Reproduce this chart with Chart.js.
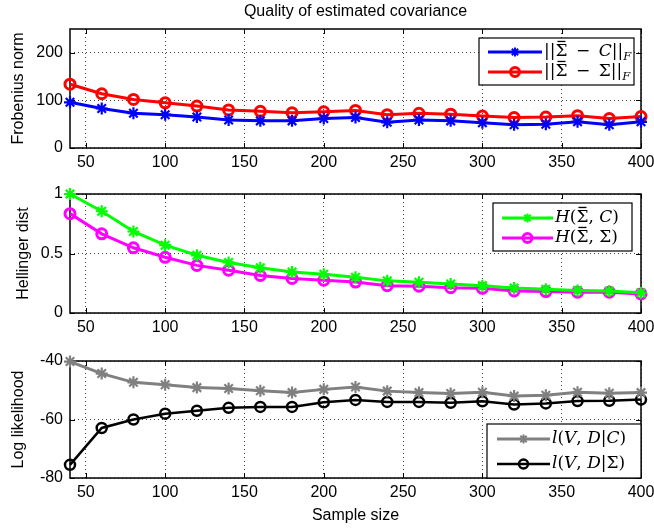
<!DOCTYPE html>
<html>
<head>
<meta charset="utf-8">
<script src="https://cdn.jsdelivr.net/npm/chart.js@4"></script>
<style>
body { margin: 0; background: #fff; }
#wrap { position: relative; width: 654px; height: 531px; overflow: hidden; }
#wrap canvas { position: absolute; left: 0; }
</style>
</head>
<body>
<div id="wrap">
  <canvas id="frob" width="660" height="180" style="top:0px"></canvas>
  <canvas id="hell" width="660" height="175" style="top:165px"></canvas>
  <canvas id="logl" width="660" height="201" style="top:330px"></canvas>
</div>
<script>

// sample sizes on the x axis
var sampleSizes = [40, 60, 80, 100, 120, 140, 160, 180, 200, 220, 240, 260, 280, 300, 320, 340, 360, 380, 400];
var xTicks = [50, 100, 150, 200, 250, 300, 350, 400];

// Frobenius norm
var frobC     = [96, 83, 73, 70, 65, 59, 57, 57, 62, 64, 54, 59, 57, 53, 49, 50, 55, 49, 55];
var frobSigma = [134, 114, 102, 95, 88, 80, 77, 74, 76, 79, 70, 73, 71, 67, 64, 65, 68, 62, 66];
var frobTicks = [0, 100, 200];

// Hellinger distance
var hellC     = [1.0, 0.855, 0.685, 0.57, 0.485, 0.425, 0.38, 0.345, 0.325, 0.30, 0.27, 0.258, 0.244, 0.23, 0.21, 0.20, 0.19, 0.185, 0.17];
var hellSigma = [0.835, 0.665, 0.548, 0.468, 0.40, 0.36, 0.315, 0.29, 0.275, 0.26, 0.23, 0.225, 0.213, 0.207, 0.185, 0.18, 0.175, 0.175, 0.16];
var hellTicks = [0, 0.5, 1];

// log likelihood
var llC     = [-40.2, -44.3, -47.3, -48.1, -49.1, -49.4, -50.2, -50.8, -49.7, -48.9, -50.3, -50.8, -51.1, -50.7, -52.0, -51.7, -50.7, -51.0, -50.8];
var llSigma = [-75.5, -62.9, -60.0, -58.0, -57.0, -56.0, -55.7, -55.7, -54.1, -53.3, -54.0, -54.0, -54.3, -53.8, -54.9, -54.5, -53.7, -53.6, -53.2];
var llTicks = [-80, -60, -40];

var SANS = "'Liberation Sans', Arial, Helvetica, sans-serif";
var SERIF = "'DejaVu Serif', 'Liberation Serif', serif";

function points(ys){
	return sampleSizes.map(function(x, i){ return {x: x, y: ys[i]}; });
}

function series(label, ys, color, style, width){
	var star = style === 'star';
	return {
		label: label,
		data: points(ys),
		xAxisID: 'x',
		borderColor: color,
		backgroundColor: 'rgba(0,0,0,0)',
		borderWidth: width,
		pointStyle: style,
		pointRadius: star ? 6 : 5,
		pointBorderWidth: star ? 2.2 : width,
		pointBorderColor: color,
		pointBackgroundColor: 'rgba(0,0,0,0)',
		tension: 0,
		clip: false
	};
}

// axes box and the small inward tick marks, drawn under the lines
var axesBox = {
	id: 'axesBox',
	beforeDatasetsDraw: function(chart){
		var a = chart.chartArea, ctx = chart.ctx;
		var sx = chart.scales.x, sy = chart.scales.y;
		ctx.save();
		ctx.strokeStyle = '#000';
		ctx.lineWidth = 1;
		ctx.beginPath();
		sx.ticks.forEach(function(t){
			var px = Math.round(sx.getPixelForValue(t.value)) + 0.5;
			ctx.moveTo(px, a.bottom); ctx.lineTo(px, a.bottom - 5);
			ctx.moveTo(px, a.top); ctx.lineTo(px, a.top + 5);
		});
		sy.ticks.forEach(function(t){
			var py = Math.round(sy.getPixelForValue(t.value)) + 0.5;
			ctx.moveTo(a.left, py); ctx.lineTo(a.left + 5, py);
			ctx.moveTo(a.right, py); ctx.lineTo(a.right - 5, py);
		});
		ctx.stroke();
		ctx.lineWidth = 1.5;
		ctx.strokeRect(a.left, a.top, a.right - a.left, a.bottom - a.top);
		ctx.restore();
	}
};

function drawMarker(ctx, style, x, y, r){
	ctx.beginPath();
	if (style === 'circle') {
		ctx.arc(x, y, r, 0, Math.PI * 2);
	} else {
		var d = r * Math.SQRT1_2;
		ctx.lineWidth = 2;
		ctx.moveTo(x - r, y); ctx.lineTo(x + r, y);
		ctx.moveTo(x, y - r); ctx.lineTo(x, y + r);
		ctx.moveTo(x - d, y - d); ctx.lineTo(x + d, y + d);
		ctx.moveTo(x - d, y + d); ctx.lineTo(x + d, y - d);
	}
	ctx.stroke();
}

// text made of upright, italic, barred and subscript pieces
function drawMath(ctx, parts, x, y, size){
	ctx.textBaseline = 'middle';
	ctx.textAlign = 'left';
	ctx.fillStyle = '#000';
	ctx.strokeStyle = '#000';
	parts.forEach(function(p){
		var s = p.sub ? size * 0.68 : size;
		ctx.font = (p.it ? 'italic ' : '') + s + 'px ' + SERIF;
		ctx.fillText(p.t, x, p.sub ? y + size * 0.3 : y);
		var w = ctx.measureText(p.t).width;
		if (p.bar) {
			ctx.lineWidth = 1.3;
			ctx.beginPath();
			ctx.moveTo(x + 2, y - size * 0.62);
			ctx.lineTo(x + w - 2, y - size * 0.62);
			ctx.stroke();
		}
		x += w;
	});
}

var mathLegend = {
	id: 'mathLegend',
	afterDraw: function(chart){
		var o = chart.options.plugins.mathLegend;
		if (!o) return;
		var a = chart.chartArea, ctx = chart.ctx;
		var left = a.right - o.fromRight, top = a.top + o.fromTop;
		ctx.save();
		ctx.fillStyle = '#fff';
		ctx.fillRect(left, top, o.w, o.h);
		ctx.strokeStyle = '#000';
		ctx.lineWidth = 1.2;
		ctx.strokeRect(left, top, o.w, o.h);
		o.items.forEach(function(it, i){
			var y = top + o.rows[i];
			ctx.strokeStyle = it.color;
			ctx.lineWidth = it.width;
			ctx.beginPath();
			ctx.moveTo(left + o.line[0], y);
			ctx.lineTo(left + o.line[1], y);
			ctx.stroke();
			drawMarker(ctx, it.style, left + (o.line[0] + o.line[1]) / 2, y, 4.5);
			drawMath(ctx, it.text, left + o.textX, y, o.size);
		});
		ctx.restore();
	}
};

function makeOptions(cfg){
	var scales = {
		x: {
			type: 'linear',
			position: 'bottom',
			min: 40,
			max: 400,
			afterBuildTicks: function(axis){ axis.ticks = xTicks.map(function(v){ return {value: v}; }); },
			afterFit: function(axis){ axis.height = cfg.xHeight; },
			ticks: {
				color: '#000',
				padding: 5,
				maxRotation: 0,
				autoSkip: false,
				font: { family: SANS, size: 16 },
				callback: function(v){ return String(v); }
			},
			grid: { color: 'rgba(0,0,0,0.75)', drawTicks: false, lineWidth: 1 },
			border: { display: false, dash: [1, 3] },
			title: cfg.xTitle ? {
				display: true,
				text: cfg.xTitle,
				color: '#000',
				font: { family: SANS, size: 16, lineHeight: 1.2 },
				padding: { top: 0, bottom: 6 }
			} : { display: false }
		},
		y: {
			type: 'linear',
			min: cfg.yMin,
			max: cfg.yMax,
			afterBuildTicks: function(axis){ axis.ticks = cfg.yTicks.map(function(v){ return {value: v}; }); },
			afterFit: function(axis){ axis.width = 70; },
			ticks: {
				color: '#000',
				padding: 7,
				autoSkip: false,
				font: { family: SANS, size: 16 },
				callback: function(v){ return String(v); }
			},
			grid: { color: 'rgba(0,0,0,0.75)', drawTicks: false, lineWidth: 1 },
			border: { display: false, dash: [1, 3] },
			title: {
				display: true,
				text: cfg.yTitle,
				color: '#000',
				font: { family: SANS, size: 16, lineHeight: 1.2 },
				padding: { top: cfg.yTitlePad, bottom: 0 }
			}
		}
	};
	// the figure title sits on an empty top axis so it is centred over the plot box
	if (cfg.title) {
		scales.top = {
			type: 'linear',
			position: 'top',
			min: 40,
			max: 400,
			ticks: { display: false },
			grid: { display: false, drawTicks: false },
			border: { display: false },
			afterFit: function(axis){ axis.height = 29; },
			title: {
				display: true,
				text: cfg.title,
				color: '#000',
				font: { family: SANS, size: 16, lineHeight: 1.2 },
				padding: { top: 2, bottom: 0 }
			}
		};
	}
	return {
		responsive: false,
		animation: false,
		devicePixelRatio: 1,
		layout: { padding: { left: 0, right: 19, top: cfg.padTop, bottom: 0 } },
		plugins: {
			legend: { display: false },
			tooltip: { enabled: false },
			title: { display: false },
			mathLegend: cfg.legend
		},
		scales: scales
	};
}

var SP = '\u2002';

new Chart(document.getElementById('frob').getContext('2d'), {
	type: 'line',
	data: { datasets: [
		series('C', frobC, '#0000ff', 'star', 3),
		series('Sigma', frobSigma, '#ff0000', 'circle', 3)
	]},
	options: makeOptions({
		title: 'Quality of estimated covariance',
		padTop: 0, xHeight: 32,
		yMin: 0, yMax: 250, yTicks: frobTicks,
		yTitle: 'Frobenius norm', yTitlePad: 9,
		legend: {
			fromRight: 162, fromTop: 9, w: 155, h: 47,
			rows: [14, 34], line: [9, 63], textX: 65, size: 17,
			items: [
				{ color: '#0000ff', width: 3, style: 'star',
				  text: [{t: '||'}, {t: '\u03A3', bar: 1}, {t: SP + '\u2212' + SP}, {t: 'C', it: 1}, {t: '||'}, {t: 'F', it: 1, sub: 1}] },
				{ color: '#ff0000', width: 3, style: 'circle',
				  text: [{t: '||'}, {t: '\u03A3', bar: 1}, {t: SP + '\u2212' + SP + '\u03A3||'}, {t: 'F', it: 1, sub: 1}] }
			]
		}
	}),
	plugins: [axesBox, mathLegend]
});

new Chart(document.getElementById('hell').getContext('2d'), {
	type: 'line',
	data: { datasets: [
		series('C', hellC, '#00ff00', 'star', 3),
		series('Sigma', hellSigma, '#ff00ff', 'circle', 3)
	]},
	options: makeOptions({
		padTop: 29, xHeight: 27,
		yMin: 0, yMax: 1, yTicks: hellTicks,
		yTitle: 'Hellinger dist', yTitlePad: 14,
		legend: {
			fromRight: 148, fromTop: 9, w: 139, h: 48,
			rows: [15, 35], line: [9, 60], textX: 62, size: 17,
			items: [
				{ color: '#00ff00', width: 3, style: 'star',
				  text: [{t: 'H', it: 1}, {t: '('}, {t: '\u03A3', bar: 1}, {t: ', '}, {t: 'C', it: 1}, {t: ')'}] },
				{ color: '#ff00ff', width: 3, style: 'circle',
				  text: [{t: 'H', it: 1}, {t: '('}, {t: '\u03A3', bar: 1}, {t: ', \u03A3)'}] }
			]
		}
	}),
	plugins: [axesBox, mathLegend]
});

new Chart(document.getElementById('logl').getContext('2d'), {
	type: 'line',
	data: { datasets: [
		series('C', llC, '#808080', 'star', 3),
		series('Sigma', llSigma, '#000000', 'circle', 2.5)
	]},
	options: makeOptions({
		padTop: 31, xHeight: 53, xTitle: 'Sample size',
		yMin: -80, yMax: -40, yTicks: llTicks,
		yTitle: 'Log likelihood', yTitlePad: 9,
		legend: {
			fromRight: 154, fromTop: 63, w: 154, h: 54,
			rows: [15, 40], line: [10, 63], textX: 65, size: 17,
			items: [
				{ color: '#808080', width: 3, style: 'star',
				  text: [{t: 'l', it: 1}, {t: '('}, {t: 'V', it: 1}, {t: ', '}, {t: 'D', it: 1}, {t: '|'}, {t: 'C', it: 1}, {t: ')'}] },
				{ color: '#000000', width: 2.5, style: 'circle',
				  text: [{t: 'l', it: 1}, {t: '('}, {t: 'V', it: 1}, {t: ', '}, {t: 'D', it: 1}, {t: '|\u03A3)'}] }
			]
		}
	}),
	plugins: [axesBox, mathLegend]
});
</script>
</body>
</html>
